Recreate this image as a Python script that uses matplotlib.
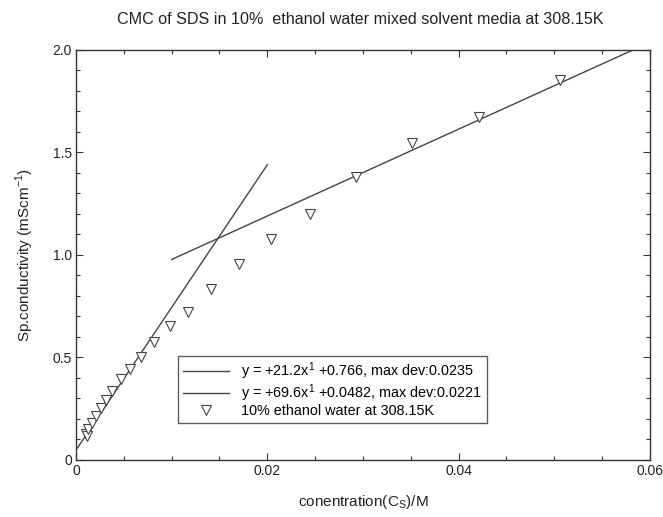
import matplotlib
matplotlib.use("Agg")
import matplotlib.pyplot as plt
import numpy as np
from matplotlib.ticker import MultipleLocator, FixedLocator, FixedFormatter

plt.rcParams['font.family'] = ['Liberation Sans', 'DejaVu Sans']

# Measured specific conductivity vs SDS concentration
conc = [0.0010, 0.0012, 0.0013, 0.0017, 0.0021, 0.0026, 0.0031, 0.0038,
        0.0047, 0.0056, 0.0068, 0.0082, 0.0098, 0.0117, 0.0141, 0.0170,
        0.0204, 0.0245, 0.0293, 0.0351, 0.0421, 0.0506]
kappa = [0.125, 0.115, 0.150, 0.179, 0.216, 0.252, 0.293, 0.338,
         0.397, 0.442, 0.504, 0.576, 0.654, 0.723, 0.834, 0.955,
         1.078, 1.200, 1.382, 1.545, 1.672, 1.852]

# Linear fits (post-micellar and pre-micellar regions)
fit_post = (21.2, 0.766)
fit_post_range = (0.010, 0.058)
fit_pre = (69.6, 0.0482)
fit_pre_range = (0.0, 0.020)

label_post = "y = +21.2x$^\\mathregular{1}$ +0.766, max dev:0.0235"
label_pre = "y = +69.6x$^\\mathregular{1}$ +0.0482, max dev:0.0221"
label_data = "10% ethanol water at 308.15K"

title = "CMC of SDS in 10%  ethanol water mixed solvent media at 308.15K"
xlabel = "conentration(C$_\\mathregular{S}$)/M"
ylabel = "Sp.conductivity (mScm$^{\\mathregular{-1}}$)"

xticks = [0, 0.02, 0.04, 0.06]
xticklabels = ["0", "0.02", "0.04", "0.06"]
yticks = [0, 0.5, 1.0, 1.5, 2.0]
yticklabels = ["0", "0.5", "1.0", "1.5", "2.0"]

fig = plt.figure(figsize=(6.63, 5.17), dpi=100)
ax = fig.add_axes([0.1146, 0.1103, 0.8658, 0.7930])

ink = '#333333'
text_c = '#222222'

xp = np.array(fit_post_range)
l1, = ax.plot(xp, fit_post[0] * xp + fit_post[1], color='#444444', lw=1.0, label=label_post)
xs = np.array(fit_pre_range)
l2, = ax.plot(xs, fit_pre[0] * xs + fit_pre[1], color='#444444', lw=1.0, label=label_pre)
pts, = ax.plot(conc, kappa, linestyle='none', marker='v', markersize=7,
               markerfacecolor='white', markeredgecolor='#444444', markeredgewidth=0.8,
               label=label_data)

ax.set_xlim(0, 0.06)
ax.set_ylim(0, 2.0)
ax.xaxis.set_major_locator(FixedLocator(xticks))
ax.xaxis.set_major_formatter(FixedFormatter(xticklabels))
ax.yaxis.set_major_locator(FixedLocator(yticks))
ax.yaxis.set_major_formatter(FixedFormatter(yticklabels))
ax.xaxis.set_minor_locator(MultipleLocator(0.005))
ax.yaxis.set_minor_locator(MultipleLocator(0.1))
ax.tick_params(which='both', direction='in', top=True, right=True, colors=ink,
               labelcolor=text_c, labelsize=10, width=0.8)
ax.tick_params(which='major', length=5, pad=3)
ax.tick_params(which='minor', length=3)
for s in ax.spines.values():
    s.set_color(ink)
    s.set_linewidth(1.0)

ax.set_xlabel(xlabel, fontsize=11, color=text_c, labelpad=11)
ax.set_ylabel(ylabel, fontsize=11, color=text_c, labelpad=12)
fig.text(0.543, 0.962, title, ha='center', va='center', fontsize=11.6, color=text_c)

leg = ax.legend(handles=[l1, l2, pts], loc='lower left', bbox_to_anchor=(0.178, 0.090),
                fontsize=10.4, frameon=True, fancybox=False, handlelength=3.2,
                borderpad=0.35, labelspacing=0.0, handletextpad=0.8, borderaxespad=0)
leg.get_frame().set_edgecolor(ink)
leg.get_frame().set_linewidth(1.0)

fig.savefig("out.png", dpi=100)
